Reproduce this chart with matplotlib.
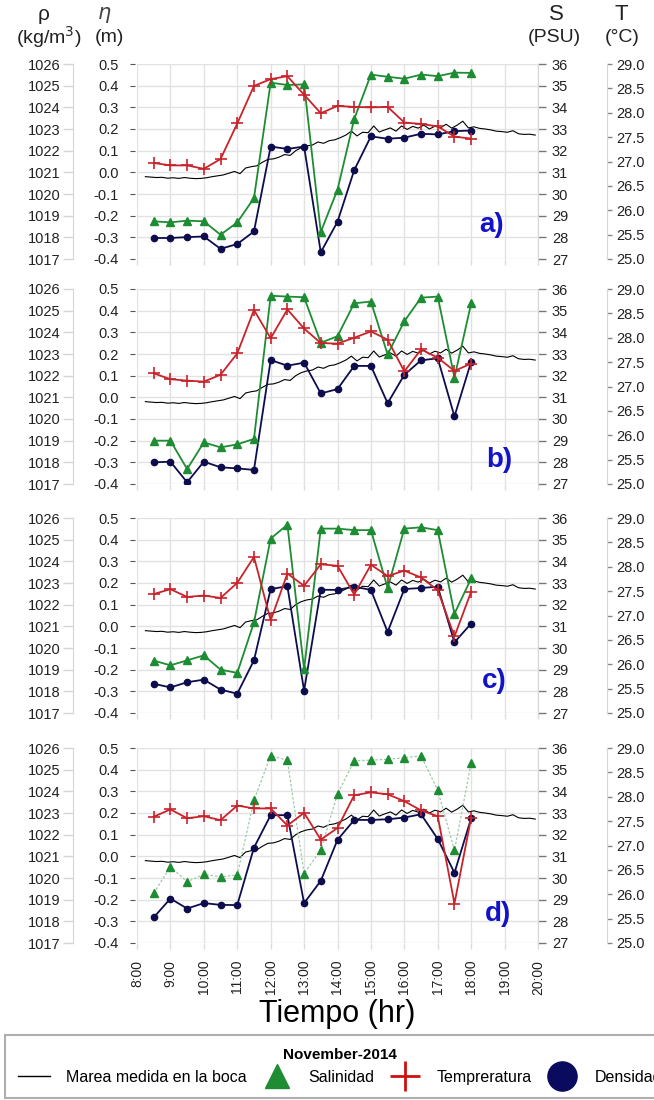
import matplotlib
matplotlib.use("Agg")
from matplotlib import pyplot as plt
from matplotlib.lines import Line2D
import numpy as np

plt.rcParams["font.family"] = ["Liberation Sans", "DejaVu Sans"]

# horas de muestreo (8:30 ... 18:00)
hours = [8.5, 9.0, 9.5, 10.0, 10.5, 11.0, 11.5, 12.0, 12.5, 13.0,
         13.5, 14.0, 14.5, 15.0, 15.5, 16.0, 16.5, 17.0, 17.5, 18.0]

hour_ticks = [8, 9, 10, 11, 12, 13, 14, 15, 16, 17, 18, 19, 20]
hour_labels = ["8:00", "9:00", "10:00", "11:00", "12:00", "13:00", "14:00",
               "15:00", "16:00", "17:00", "18:00", "19:00", "20:00"]

eta_ticks = [-0.4, -0.3, -0.2, -0.1, 0.0, 0.1, 0.2, 0.3, 0.4, 0.5]
rho_ticks = [1017, 1018, 1019, 1020, 1021, 1022, 1023, 1024, 1025, 1026]
sal_ticks = [27, 28, 29, 30, 31, 32, 33, 34, 35, 36]
tem_ticks = [25.0, 25.5, 26.0, 26.5, 27.0, 27.5, 28.0, 28.5, 29.0]

# marea medida en la boca (m), cada 10 min desde 8:15
tide_m = [-0.020, -0.022, -0.024, -0.023, -0.027, -0.025, -0.028, -0.024, -0.027, -0.029,
          -0.028, -0.025, -0.020, -0.016, -0.012, -0.004, 0.004, -0.006, 0.020, 0.026,
          0.030, 0.046, 0.060, 0.062, 0.070, 0.082, 0.078, 0.100, 0.114, 0.122,
          0.126, 0.140, 0.134, 0.146, 0.150, 0.160, 0.172, 0.190, 0.168, 0.185,
          0.183, 0.214, 0.186, 0.196, 0.205, 0.190, 0.214, 0.198, 0.212, 0.204,
          0.218, 0.200, 0.213, 0.205, 0.222, 0.204, 0.218, 0.236, 0.205, 0.210,
          0.203, 0.200, 0.196, 0.190, 0.188, 0.185, 0.192, 0.178, 0.175, 0.176,
          0.172]
tide_hr = 8.25 + np.arange(len(tide_m)) / 6.0

sal_a = [28.74, 28.69, 28.77, 28.74, 28.12, 28.69, 29.81, 35.14, 35.03, 35.06,
         28.25, 30.2, 33.46, 35.51, 35.41, 35.32, 35.51, 35.44, 35.6, 35.59]
temp_a = [26.97, 26.92, 26.92, 26.85, 27.05, 27.78, 28.55, 28.69, 28.75, 28.37,
          27.99, 28.14, 28.12, 28.11, 28.12, 27.80, 27.77, 27.72, 27.51, 27.47]
dens_a = [1017.97, 1017.97, 1018.01, 1018.04, 1017.47, 1017.69, 1018.27, 1022.19, 1022.08, 1022.19,
          1017.31, 1018.72, 1021.1, 1022.66, 1022.55, 1022.6, 1022.78, 1022.75, 1022.9, 1022.93]

sal_b = [29.0, 29.0, 27.69, 28.92, 28.69, 28.83, 29.08, 35.69, 35.65, 35.62,
         33.52, 33.82, 35.34, 35.42, 32.98, 34.51, 35.6, 35.65, 31.91, 35.34]
temp_b = [27.27, 27.15, 27.12, 27.10, 27.24, 27.68, 28.57, 27.99, 28.58, 28.19,
          27.89, 27.88, 28.0, 28.13, 27.96, 27.31, 27.76, 27.59, 27.32, 27.47]
dens_b = [1018.0, 1018.03, 1017.08, 1018.03, 1017.77, 1017.72, 1017.65, 1022.72, 1022.46, 1022.6,
          1021.18, 1021.38, 1022.45, 1022.45, 1020.73, 1022.04, 1022.71, 1022.8, 1020.12, 1022.65]

sal_c = [29.42, 29.2, 29.43, 29.66, 29.0, 28.85, 31.18, 35.05, 35.69, 29.03,
         35.51, 35.51, 35.44, 35.44, 32.77, 35.51, 35.57, 35.44, 31.58, 33.21]
temp_c = [27.44, 27.54, 27.38, 27.41, 27.36, 27.67, 28.2, 26.9, 27.86, 27.61,
          28.05, 28.02, 27.43, 28.04, 27.81, 27.92, 27.78, 27.52, 26.57, 27.49]
dens_c = [1018.35, 1018.18, 1018.42, 1018.54, 1018.08, 1017.89, 1019.43, 1022.72, 1022.85, 1018.03,
          1022.69, 1022.68, 1022.83, 1022.68, 1020.74, 1022.72, 1022.77, 1022.83, 1020.26, 1021.13]

sal_d = [29.3, 30.52, 29.83, 30.17, 30.05, 30.14, 33.59, 35.65, 35.43, 30.2,
         31.3, 33.88, 35.41, 35.44, 35.48, 35.55, 35.64, 34.05, 31.27, 35.32]
temp_d = [27.59, 27.74, 27.56, 27.60, 27.52, 27.82, 27.76, 27.76, 27.41, 27.67,
          27.12, 27.36, 28.03, 28.09, 28.05, 27.91, 27.72, 27.60, 25.81, 27.57]
dens_d = [1018.18, 1019.05, 1018.59, 1018.84, 1018.76, 1018.75, 1021.4, 1022.9, 1022.9, 1018.84,
          1019.87, 1021.76, 1022.68, 1022.68, 1022.71, 1022.79, 1022.94, 1021.8, 1020.24, 1022.76]

GREEN = "#1e8c32"
RED = "#c8232a"
NAVY = "#0d0d4d"
TXT = "#222222"

W, H = 654, 1100
fig = plt.figure(figsize=(W / 100, H / 100), dpi=100)

tops = [64, 289, 518, 748]
ph = 195
x0, x1 = 137, 538

panels = [
    ("a)", sal_a, temp_a, dens_a, 0.885, 0.174, "-"),
    ("b)", sal_b, temp_b, dens_b, 0.903, 0.123, "-"),
    ("c)", sal_c, temp_c, dens_c, 0.890, 0.164, "-"),
    ("d)", sal_d, temp_d, dens_d, 0.900, 0.149, "dotted"),
]

for i, (tag, sal, tem, den, tx, ty, sal_ls) in enumerate(panels):
    top = tops[i]
    ax = fig.add_axes([x0 / W, 1 - (top + ph) / H, (x1 - x0) / W, ph / H])
    ax.set_xlim(8, 20)
    ax.set_ylim(-0.4, 0.5)
    ax.set_xticks(hour_ticks)
    ax.set_yticks(eta_ticks)
    ax.set_yticklabels(["%.1f" % v for v in eta_ticks])
    ax.grid(True, color="#e2e2e2", lw=1.0)
    ax.set_axisbelow(True)
    for s in ax.spines.values():
        s.set_visible(False)
    ax.spines["left"].set_position(("outward", 1.5))
    ax.tick_params(axis="y", length=3.6, width=0.8, color="#555555", pad=8,
                   labelsize=10.5, labelcolor=TXT)
    ax.tick_params(axis="x", length=4, width=1, color="#dddddd", pad=8,
                   labelsize=10, labelcolor=TXT)
    if i < 3:
        ax.set_xticklabels([])
    else:
        ax.set_xticklabels(hour_labels, rotation=90)
        ax.set_xlabel("Tiempo (hr)", fontsize=22, labelpad=3)

    ax.plot(tide_hr, tide_m, color="black", lw=0.8, zorder=3)

    # densidad (eje izquierdo desplazado)
    ax_r = ax.twinx()
    ax_r.set_ylim(1017, 1026)
    ax_r.set_yticks(rho_ticks)
    ax_r.yaxis.set_ticks_position("left")
    ax_r.yaxis.set_label_position("left")
    for k in ["top", "bottom", "right"]:
        ax_r.spines[k].set_visible(False)
    ax_r.spines["left"].set_position(("outward", 46))
    ax_r.spines["left"].set_color("#d6d6d6")
    ax_r.tick_params(axis="y", left=True, right=False, labelleft=True, labelright=False,
                     length=7, width=1, color="#d6d6d6", pad=2, labelsize=10.5, labelcolor=TXT)

    # salinidad
    ax_s = ax.twinx()
    ax_s.set_ylim(27, 36)
    ax_s.set_yticks(sal_ticks)
    for k in ["top", "bottom", "left"]:
        ax_s.spines[k].set_visible(False)
    ax_s.spines["right"].set_color("#d6d6d6")
    ax_s.tick_params(axis="y", length=6, width=1, color="#777777", pad=4,
                     labelsize=10.5, labelcolor=TXT)

    # temperatura
    ax_t = ax.twinx()
    ax_t.set_ylim(25, 29)
    ax_t.set_yticks(tem_ticks)
    ax_t.set_yticklabels(["%.1f" % v for v in tem_ticks])
    for k in ["top", "bottom", "left"]:
        ax_t.spines[k].set_visible(False)
    ax_t.spines["right"].set_position(("outward", 50))
    ax_t.spines["right"].set_color("#d6d6d6")
    ax_t.tick_params(axis="y", length=3.6, width=1, color="#888888", pad=3,
                     labelsize=10.5, labelcolor=TXT)

    ax_r.plot(hours, den, color=NAVY, lw=1.3, marker="o", ms=4.5)
    if sal_ls == "-":
        ax_s.plot(hours, sal, color=GREEN, lw=1.3, marker="^", ms=5.5)
    else:
        ax_s.plot(hours, sal, color="#9ccaa5", lw=0.9, ls=(0, (2, 1.5)),
                  marker="^", ms=5.5, mfc=GREEN, mec=GREEN)
    ax_t.plot(hours, tem, color=RED, lw=1.3, marker="+", ms=9, mew=1.2)

    ax_t.text(tx, ty, tag, transform=ax.transAxes, color="#1212c8", fontsize=20,
              fontweight="bold", ha="center", va="center")

# cabeceras de los ejes
def fx(px):
    return px / W


def fy(py):
    return 1 - py / H


fig.text(fx(44), fy(15), "ρ", fontsize=15, ha="center", va="center", color=TXT)
fig.text(fx(49), fy(37), "(kg/m$^3$)", fontsize=14, ha="center", va="center", color=TXT)
fig.text(fx(104), fy(15), r"$\eta$", fontsize=15, ha="center", va="center", color="#444444")
fig.text(fx(109), fy(37), "(m)", fontsize=14, ha="center", va="center", color=TXT)
fig.text(fx(556), fy(14), "S", fontsize=16, ha="center", va="center", color=TXT)
fig.text(fx(554), fy(37), "(PSU)", fontsize=14, ha="center", va="center", color=TXT)
fig.text(fx(621), fy(14), "T", fontsize=16, ha="center", va="center", color=TXT)
fig.text(fx(622), fy(37), "(°C)", fontsize=14, ha="center", va="center", color=TXT)

# leyenda
handles = [
    Line2D([], [], color="black", lw=1),
    Line2D([], [], ls="none", marker="^", ms=17, color=GREEN),
    Line2D([], [], ls="none", marker="+", ms=22, mew=2, color="#d01010"),
    Line2D([], [], ls="none", marker="o", ms=21, color="#0a0a5e"),
]
labels = ["Marea medida en la boca", "Salinidad", "Tempreratura", "Densidad"]
leg = fig.legend(handles, labels, loc="upper left", bbox_to_anchor=(5 / W, fy(1035)),
                 ncol=4, title="November-2014",
                 title_fontproperties={"weight": "bold", "size": 11},
                 fontsize=11.5, frameon=True, fancybox=False, edgecolor="#9a9a9a",
                 handlelength=2.0, handletextpad=1.0, columnspacing=0.9, borderpad=0.8,
                 borderaxespad=0)
leg.get_frame().set_linewidth(1.5)

fig.savefig("out.png", dpi=100)
